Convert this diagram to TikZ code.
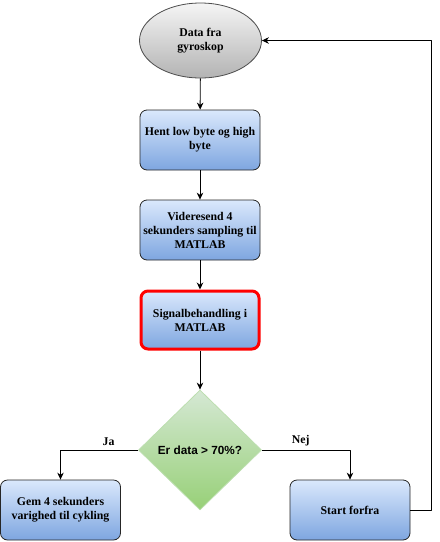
\documentclass[tikz,border=0pt]{standalone}
\usepackage{fontspec}
\setmainfont{Liberation Serif}
\newfontfamily\diafont{Liberation Sans}
\usetikzlibrary{shapes.geometric,arrows.meta}
\definecolor{boxtop}{HTML}{DAE8FC}
\definecolor{boxbot}{HTML}{7EA6E0}
\definecolor{elltop}{HTML}{F5F5F5}
\definecolor{ellbot}{HTML}{B3B3B3}
\definecolor{diatop}{HTML}{D5E8D4}
\definecolor{diabot}{HTML}{97D077}
\begin{document}
\begin{tikzpicture}[x=1pt,y=-1pt,>={Stealth[length=7pt,width=6.5pt]}, font=\fontsize{11.8}{14}\selectfont\bfseries, line join=round,
	box/.style={rectangle, rounded corners=7pt, draw=black!85, line width=0.8pt, minimum width=120pt, minimum height=60pt, align=center, inner sep=2pt, top color=boxtop, bottom color=boxbot},
	ell/.style={ellipse, draw=black!70, line width=0.8pt, minimum width=122pt, minimum height=75pt, inner sep=0pt, align=center, top color=elltop, bottom color=ellbot},
	dia/.style={diamond, draw=diatop!60!diabot, line width=0.8pt, minimum width=123pt, minimum height=120pt, inner sep=0pt, font=\diafont\fontsize{11.8}{14}\selectfont\bfseries, top color=diatop, bottom color=diabot},
	line/.style={->, line width=0.9pt}]
	\useasboundingbox (0,0) rectangle (440,542);
	\node[ell] (data) at (200.5,40.5) {Data fra\\gyroskop};
	\node[box] (hent) at (200,140) {Hent low byte og high\\byte};
	\node[box] (send) at (200,230) {Videresend 4\\sekunders sampling til\\MATLAB};
	\node[box, draw=red, line width=3pt, minimum width=118pt, minimum height=58pt] (signal) at (200,320) {Signalbehandling i\\MATLAB};
	\node[dia] (check) at (200,450) {Er data > 70\%?};
	\node[box] (gem) at (60.5,510) {Gem 4 sekunders\\varighed til cykling};
	\node[box] (start) at (350,510) {Start forfra};
	\draw[line] (data) -- (hent);
	\draw[line] (hent) -- (send);
	\draw[line] (send) -- (signal);
	\draw[line] (signal) -- (check);
	\draw[line] (check.west) -| node[pos=0.19, above, inner sep=4pt]{Ja} (gem.north);
	\draw[line] (check.east) -| node[pos=0.22, above, inner sep=4pt]{Nej} (start.north);
	\draw[line] (start.east) -- ++(21,0) |- (data.east);
\end{tikzpicture}
\end{document}
